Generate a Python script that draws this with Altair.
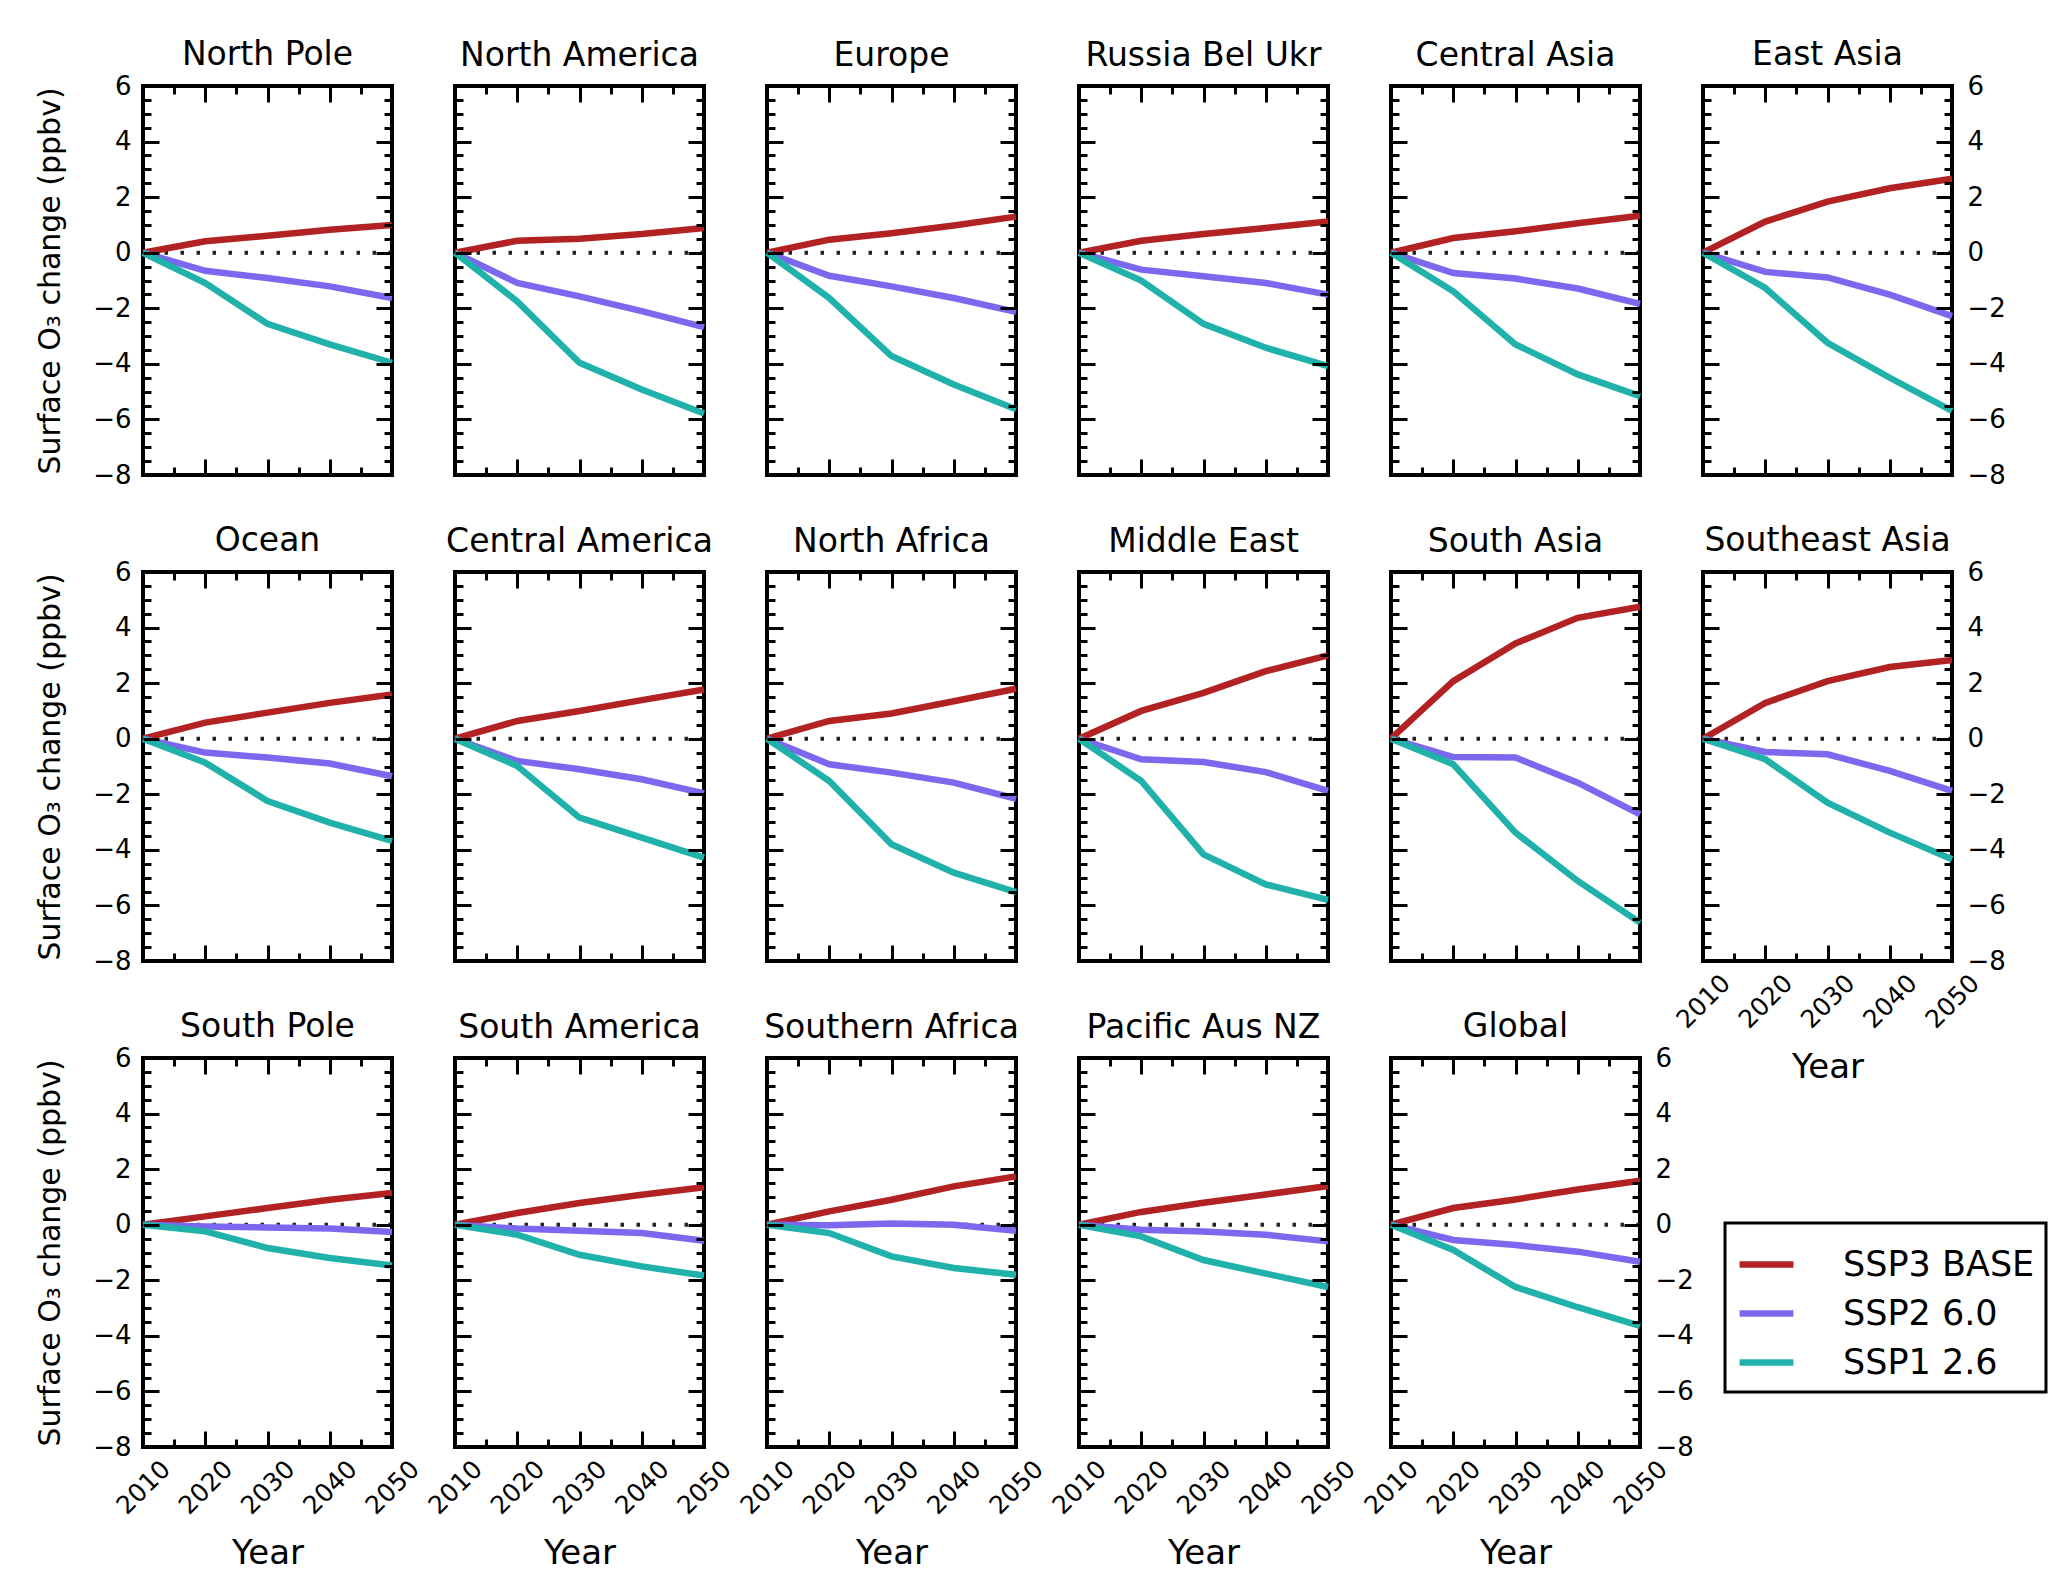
import altair as alt
import pandas as pd

FONT = "DejaVu Sans"

years = [2010, 2020, 2030, 2040, 2050]
regions = [
    "North Pole", "North America", "Europe", "Russia Bel Ukr", "Central Asia", "East Asia",
    "Ocean", "Central America", "North Africa", "Middle East", "South Asia", "Southeast Asia",
    "South Pole", "South America", "Southern Africa", "Pacific Aus NZ", "Global",
]
scenarios = ["SSP3 BASE", "SSP2 6.0", "SSP1 2.6"]
colors = ["#b22222", "#7b68ee", "#20b2aa"]

ssp3_base = [
    [0, 0.41, 0.61, 0.83, 1.00],
    [0, 0.43, 0.50, 0.67, 0.89],
    [0, 0.47, 0.70, 0.98, 1.30],
    [0, 0.43, 0.67, 0.89, 1.12],
    [0, 0.53, 0.77, 1.06, 1.33],
    [0, 1.12, 1.84, 2.32, 2.66],
    [0, 0.58, 0.94, 1.29, 1.59],
    [0, 0.64, 1.00, 1.39, 1.77],
    [0, 0.64, 0.91, 1.35, 1.80],
    [0, 1.00, 1.65, 2.43, 3.00],
    [0, 2.07, 3.43, 4.35, 4.75],
    [0, 1.29, 2.07, 2.58, 2.83],
    [0, 0.30, 0.60, 0.90, 1.14],
    [0, 0.42, 0.78, 1.08, 1.35],
    [0, 0.48, 0.90, 1.38, 1.74],
    [0, 0.46, 0.79, 1.09, 1.39],
    [0, 0.60, 0.91, 1.27, 1.58],
]
ssp2_60 = [
    [0, -0.65, -0.91, -1.21, -1.63],
    [0, -1.09, -1.57, -2.10, -2.68],
    [0, -0.83, -1.21, -1.63, -2.13],
    [0, -0.61, -0.85, -1.09, -1.51],
    [0, -0.73, -0.93, -1.29, -1.84],
    [0, -0.69, -0.89, -1.51, -2.28],
    [0, -0.50, -0.68, -0.89, -1.35],
    [0, -0.80, -1.10, -1.46, -1.97],
    [0, -0.92, -1.22, -1.58, -2.16],
    [0, -0.74, -0.84, -1.20, -1.88],
    [0, -0.66, -0.68, -1.58, -2.72],
    [0, -0.48, -0.56, -1.16, -1.88],
    [0, -0.06, -0.10, -0.14, -0.26],
    [0, -0.14, -0.22, -0.30, -0.58],
    [0, -0.02, 0.04, 0.00, -0.22],
    [0, -0.18, -0.24, -0.36, -0.60],
    [0, -0.55, -0.73, -0.97, -1.33],
]
ssp1_26 = [
    [0, -1.09, -2.56, -3.30, -3.96],
    [0, -1.75, -3.96, -4.92, -5.79],
    [0, -1.63, -3.72, -4.74, -5.63],
    [0, -1.00, -2.56, -3.42, -4.08],
    [0, -1.39, -3.30, -4.38, -5.16],
    [0, -1.27, -3.24, -4.50, -5.69],
    [0, -0.86, -2.24, -3.02, -3.68],
    [0, -0.98, -2.84, -3.56, -4.28],
    [0, -1.52, -3.80, -4.82, -5.52],
    [0, -1.52, -4.16, -5.24, -5.80],
    [0, -0.92, -3.38, -5.12, -6.62],
    [0, -0.74, -2.30, -3.38, -4.34],
    [0, -0.24, -0.84, -1.20, -1.47],
    [0, -0.36, -1.08, -1.50, -1.83],
    [0, -0.30, -1.14, -1.56, -1.80],
    [0, -0.42, -1.27, -1.76, -2.24],
    [0, -0.91, -2.24, -2.97, -3.64],
]

y_major = [-8, -6, -4, -2, 0, 2, 4, 6]
y_minor = [-7.5, -7, -6.5, -5.5, -5, -4.5, -3.5, -3, -2.5, -1.5, -1, -0.5,
           0.5, 1, 1.5, 2.5, 3, 3.5, 4.5, 5, 5.5]
x_major = [2010, 2020, 2030, 2040, 2050]
x_minor = [2015, 2025, 2035, 2045]
zero_line = [0]

y_title = "Surface O\u2083 change (ppbv)"
x_title = "Year"
right_label_regions = ["East Asia", "Southeast Asia", "Global"]
n_cols = 6

records = []
for i, reg in enumerate(regions):
    for s, vals in zip(scenarios, [ssp3_base, ssp2_60, ssp1_26]):
        for yr, v in zip(years, vals[i]):
            records.append({"region": reg, "scenario": s, "year": yr, "value": v})
df = pd.DataFrame(records)
zero_df = pd.DataFrame({"y": zero_line})

W, H = 249, 389
MAJ, MIN = 16, 8
YLAB = 26


def axis_y(orient, values, size, labels, title=None):
    kw = dict(orient=orient, values=values, tickSize=size, offset=-size, tickWidth=3,
              tickColor="black", domain=False, grid=False, labels=labels, zindex=1)
    if labels:
        kw.update(labelFontSize=YLAB, labelColor="black", labelFont=FONT,
                  labelPadding=12 if orient == "left" else 15, format="d")
    if title:
        kw.update(title=title, titleFontSize=30, titlePadding=27, titleFontWeight="normal",
                  titleColor="black", titleFont=FONT)
    else:
        kw["title"] = None
    return alt.Axis(**kw)


def axis_x(orient, values, size, labels):
    kw = dict(orient=orient, values=values, tickSize=size, offset=-size, tickWidth=3,
              tickColor="black", domain=False, grid=False, labels=labels, zindex=1)
    if labels:
        kw.update(labelFontSize=25, labelColor="black", labelFont=FONT, labelAngle=-45,
                  labelAlign="center", labelBaseline="middle", labelPadding=40,
                  labelFlush=False, labelOverlap=False, format="d",
                  title=x_title, titleFontSize=34, titlePadding=18, titleFontWeight="normal",
                  titleColor="black", titleFont=FONT)
    else:
        kw["title"] = None
    return alt.Axis(**kw)


legend = alt.Legend(title=None, orient="none", legendX=1582, legendY=1137,
                    symbolType="stroke", symbolStrokeWidth=6.5, symbolSize=2900,
                    labelFontSize=35, labelFont=FONT, labelColor="black", labelLimit=400,
                    labelOffset=46, rowPadding=0, padding=11, strokeColor="black")


def panel(idx, region):
    row, col = divmod(idx, n_cols)
    sub = df[df.region == region]
    left_lab = col == 0
    right_lab = region in right_label_regions
    bot_lab = row == 2 or region == "Southeast Asia"
    xsc = alt.Scale(domain=[2010, 2050], nice=False, zero=False)
    ysc = alt.Scale(domain=[-8, 6], nice=False, zero=False)
    base = alt.Chart(sub)
    zero = alt.Chart(zero_df).mark_rule(color="#222222", strokeWidth=4,
                                        strokeDash=[3.5, 12.5]).encode(
        y=alt.Y("y:Q", scale=ysc, axis=None))
    lines = base.mark_line(strokeWidth=6.5).encode(
        x=alt.X("year:Q", scale=xsc, axis=axis_x("bottom", x_major, MAJ, bot_lab)),
        y=alt.Y("value:Q", scale=ysc,
                axis=axis_y("left", y_major, MAJ, left_lab, y_title if left_lab else None)),
        color=alt.Color("scenario:N", scale=alt.Scale(domain=scenarios, range=colors),
                        legend=legend),
    )
    g1 = base.mark_line(strokeOpacity=0).encode(
        x=alt.X("year:Q", scale=xsc, axis=axis_x("bottom", x_minor, MIN, False)),
        y=alt.Y("value:Q", scale=ysc, axis=axis_y("left", y_minor, MIN, False)),
        detail="scenario:N")
    g2 = base.mark_line(strokeOpacity=0).encode(
        x=alt.X("year:Q", scale=xsc, axis=axis_x("top", x_major, MAJ, False)),
        y=alt.Y("value:Q", scale=ysc, axis=axis_y("right", y_major, MAJ, right_lab)),
        detail="scenario:N")
    g3 = base.mark_line(strokeOpacity=0).encode(
        x=alt.X("year:Q", scale=xsc, axis=axis_x("top", x_minor, MIN, False)),
        y=alt.Y("value:Q", scale=ysc, axis=axis_y("right", y_minor, MIN, False)),
        detail="scenario:N")
    # labels at the top tick stick out above the frame; compensate the title offset
    t_off = 1 if (left_lab or right_lab) else 12
    return alt.layer(zero, lines, g1, g2, g3).resolve_axis(
        x="independent", y="independent").properties(
        width=W, height=H,
        title=alt.TitleParams(text=region, fontSize=33, font=FONT, fontWeight="normal",
                              offset=t_off, color="black", anchor="middle"))


panels = [panel(i, r) for i, r in enumerate(regions)]

chart = alt.concat(*panels, columns=n_cols, spacing={"row": 97, "column": 63},
                   bounds="flush").properties(
    padding={"left": 25, "top": 29, "right": 5, "bottom": 0}
).configure(font=FONT).configure_view(
    stroke="black", strokeWidth=4
).configure_legend(strokeWidth=3)

chart.save("out.html", embed_options={"renderer": "svg", "actions": False})
